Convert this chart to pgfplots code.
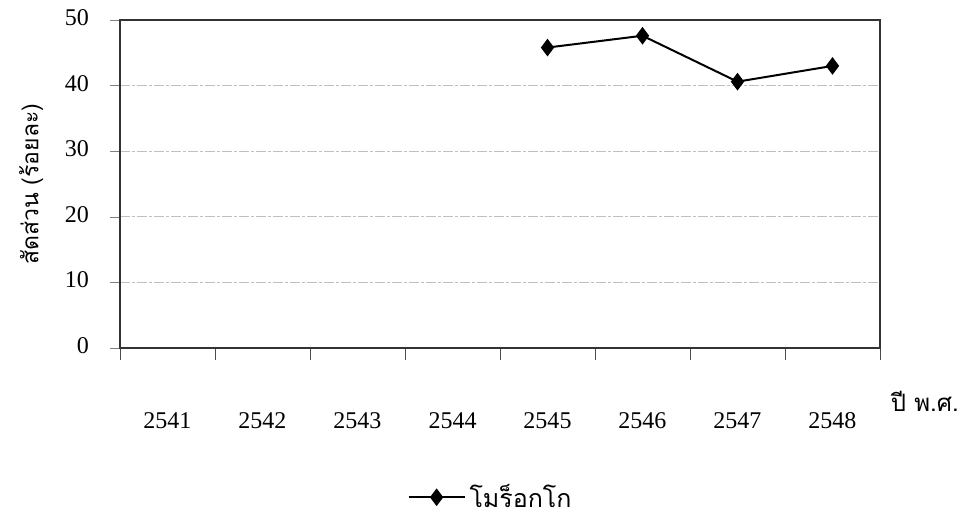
\documentclass[border=0pt]{standalone}
\usepackage{fontspec}
\setmainfont{Liberation Serif}
\newfontfamily\thaifont[Script=Thai]{Loma}
\usepackage{pgfplots}
\pgfplotsset{compat=1.18}

\begin{document}
\begin{tikzpicture}
\begin{axis}[
    at={(0,0)}, anchor=south west,
    scale only axis,
    width=380pt, height=164pt,
    xmin=-0.5, xmax=7.5,
    ymin=0, ymax=50,
    xtick={0,...,7},
    xticklabels={2541,2542,2543,2544,2545,2546,2547,2548},
    major x tick style={draw=none},
    minor xtick={-0.5,0.5,...,7.5},
    minor x tick style={black!70, line width=0.4pt},
    minor tick length=6pt,
    ytick={0,10,...,50},
    major tick length=5pt,
    tick align=outside,
    xtick pos=bottom, ytick pos=left,
    ymajorgrids=true,
    grid style={gray!50, line width=0.4pt, dash pattern=on 5pt off 1pt on 1.5pt off 1pt},
    axis line style={black!80, line width=0.7pt},
    /pgf/number format/assume math mode=true,
    typeset ticklabels with strut,
    ticklabel style={font=\fontsize{12}{14}\selectfont},
    xticklabel style={anchor=north},
    xticklabel shift=22pt,
    yticklabel shift=7pt,
    ylabel={\thaifont\fontsize{11.5}{13}\selectfont สัดส่วน (ร้อยละ)},
    ylabel style={at={(axis description cs:-0.117,0.5)}, anchor=center},
    xlabel={\thaifont\fontsize{12}{14}\selectfont ปี พ.ศ.},
    xlabel style={at={(axis description cs:1.059,-0.162)}, anchor=center},
    legend style={at={(axis description cs:0.489,-0.455)}, anchor=center,
        draw=none, fill=none, font=\thaifont\fontsize{12.5}{14}\selectfont},
    legend image code/.code={
        \draw[#1, line width=0.9pt] (-2pt,0pt) -- (26pt,0pt);
        \draw[#1, only marks] plot coordinates {(12pt,0pt)};
    },
]
\addplot[black, line width=1pt, mark=diamond*, mark size=3.6pt,
    mark options={fill=black}]
    coordinates {(4,45.8) (5,47.6) (6,40.6) (7,43.0)};
\addlegendentry{โมร็อกโก}
\end{axis}
\pgfresetboundingbox
\path (-60pt,-84.5pt) rectangle (423.5pt,174pt);
\end{tikzpicture}
\end{document}
